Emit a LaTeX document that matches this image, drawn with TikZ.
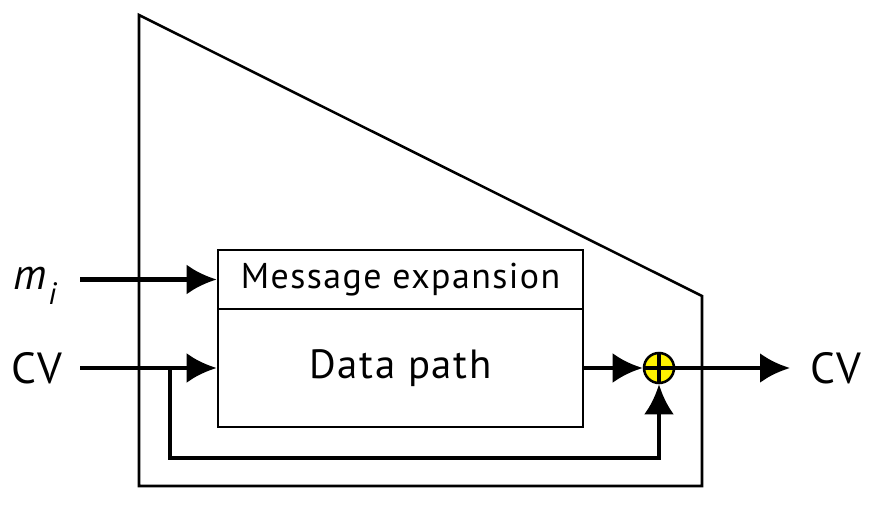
\documentclass[tikz,border=0pt]{standalone}
\usepackage{fontspec}
\setmainfont{PT Sans}[LetterSpace=4]
\usetikzlibrary{arrows.meta}
\begin{document}
\begin{tikzpicture}[x=0.025cm,y=-0.025cm,>={Latex[length=0.75cm,width=0.75cm]},
    box/.style={draw,line width=1.8pt,minimum width=9.125cm,inner sep=0pt},
    bus/.style={line width=3.4pt},
    lbl/.style={font=\fontsize{31}{35}\selectfont}]
    \useasboundingbox (0,0) rectangle (874,518);
    % outer frame
    \draw[line width=1.8pt](139,15)--(702,296)--(702,486)--(139,486)--cycle;
    \node[box,minimum height=1.475cm,font=\fontsize{25.5}{29}\selectfont](msg) at (400.5,279.5){Message expansion};
    \node[box,minimum height=2.95cm,font=\fontsize{29}{33}\selectfont](data) at (400.5,368){Data path};
    \node[draw,circle,fill=yellow,line width=1.8pt,minimum size=0.75cm,inner sep=0pt](xor) at (659,368){};
    \draw[line width=2.4pt](xor.north)--(xor.south) (xor.west)--(xor.east);
    \node[lbl](mi) at (36,286){\textit{m}\raisebox{-0.7ex}{\textit{\fontsize{22}{24}\selectfont i}}};
    \node[lbl](cvin) at (37,368){CV};
    \node[lbl](cvout) at (836,368){CV};
    \coordinate(mi0) at (80,279.5);
    \coordinate(cv0) at (80,368);
    \coordinate(br) at (170,368);
    \coordinate(fb) at (170,458);
    \coordinate(out) at (790,368);
    \draw[bus,->](mi0)--(msg.west);
    \draw[bus,->](cv0)--(data.west);
    \draw[bus,->](data.east)--(xor.west);
    \draw[bus,->](xor.east)--(out);
    \draw[bus,->](br)--(fb)-|(xor.south);
\end{tikzpicture}
\end{document}
